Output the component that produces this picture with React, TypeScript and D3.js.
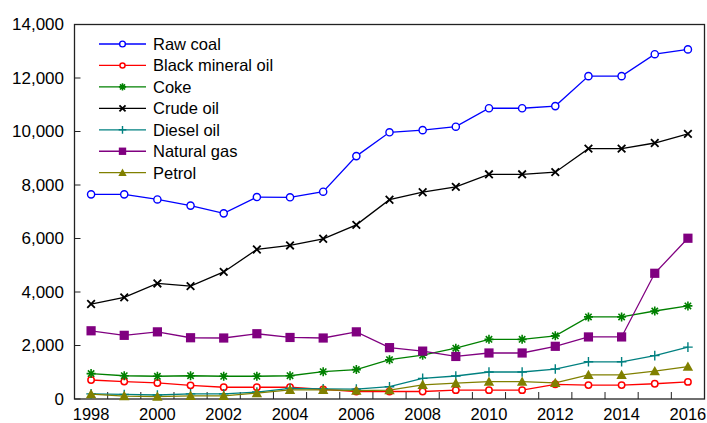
import * as d3 from "d3";

const years = [
  1998, 1999, 2000, 2001, 2002, 2003, 2004, 2005, 2006, 2007, 2008, 2009,
  2010, 2011, 2012, 2013, 2014, 2015, 2016,
];

const rawCoal = [
  7650, 7650, 7460, 7230, 6940, 7550, 7540, 7750, 9080, 9970, 10050, 10180,
  10870, 10870, 10950, 12070, 12070, 12890, 13070,
];
const blackMineralOil = [
  710, 650, 600, 510, 440, 440, 440, 360, 280, 280, 280, 330, 330, 330, 550,
  520, 520, 570, 640,
];
const coke = [
  950, 870, 850, 870, 850, 850, 870, 1020, 1100, 1470, 1640, 1900, 2230, 2230,
  2360, 3070, 3070, 3290, 3480,
];
const crudeOil = [
  3550, 3800, 4320, 4220, 4750, 5590, 5740, 5990, 6510, 7450, 7730, 7930,
  8400, 8400, 8480, 9360, 9360, 9570, 9910,
];
const dieselOil = [
  190, 170, 150, 190, 190, 260, 400, 380, 370, 460, 770, 860, 1010, 1010,
  1120, 1390, 1390, 1620, 1940,
];
const naturalGas = [
  2550, 2380, 2510, 2290, 2280, 2440, 2300, 2280, 2510, 1920, 1790, 1590,
  1720, 1720, 1970, 2320, 2320, 4700, 6010,
];
const petrol = [
  180, 110, 90, 120, 120, 220, 340, 340, 310, 330, 530, 590, 650, 650, 600,
  900, 900, 1040, 1210,
];

const yTicks = [0, 2000, 4000, 6000, 8000, 10000, 12000, 14000];

type MarkerKind = "openCircle" | "smallCircle" | "asterisk" | "cross" | "plus" | "square" | "triangle";

const series: { name: string; values: number[]; color: string; marker: MarkerKind }[] = [
  { name: "Raw coal", values: rawCoal, color: "#0000ff", marker: "openCircle" },
  { name: "Black mineral oil", values: blackMineralOil, color: "#ff0000", marker: "smallCircle" },
  { name: "Coke", values: coke, color: "#008000", marker: "asterisk" },
  { name: "Crude oil", values: crudeOil, color: "#000000", marker: "cross" },
  { name: "Diesel oil", values: dieselOil, color: "#008080", marker: "plus" },
  { name: "Natural gas", values: naturalGas, color: "#800080", marker: "square" },
  { name: "Petrol", values: petrol, color: "#808000", marker: "triangle" },
];

const WIDTH = 707;
const HEIGHT = 423;
const MARGIN = { top: 24.5, right: 2.5, bottom: 24, left: 74.5 };
const FONT = "'Liberation Sans', Arial, sans-serif";

function Marker({ kind, x, y, color, s = 1 }: { kind: MarkerKind; x: number; y: number; color: string; s?: number }) {
  switch (kind) {
    case "openCircle":
      return <circle cx={x} cy={y} r={3.6 * s} fill="white" stroke={color} strokeWidth={1.4} />;
    case "smallCircle":
      return <circle cx={x} cy={y} r={3.2 * s} fill="white" stroke={color} strokeWidth={1.5} />;
    case "asterisk": {
      const r = 4.5 * s;
      const d = r * Math.SQRT1_2;
      return (
        <path
          d={`M${x - r},${y}H${x + r}M${x},${y - r}V${y + r}M${x - d},${y - d}L${x + d},${y + d}M${x - d},${y + d}L${x + d},${y - d}`}
          stroke={color}
          strokeWidth={1.6}
        />
      );
    }
    case "cross": {
      const r = 3.8 * s;
      return (
        <path
          d={`M${x - r},${y - r}L${x + r},${y + r}M${x - r},${y + r}L${x + r},${y - r}`}
          stroke={color}
          strokeWidth={1.8}
        />
      );
    }
    case "plus": {
      const r = 4.8 * s;
      return <path d={`M${x - r},${y}H${x + r}M${x},${y - r}V${y + r}`} stroke={color} strokeWidth={1.4} />;
    }
    case "square": {
      const h = 4.6 * s;
      return <rect x={x - h} y={y - h} width={2 * h} height={2 * h} fill={color} />;
    }
    case "triangle": {
      const h = 5.2 * s;
      return <path d={`M${x},${y - h}L${x + h},${y + h * 0.8}L${x - h},${y + h * 0.8}Z`} fill={color} />;
    }
  }
}

export default function App() {
  const boundsWidth = WIDTH - MARGIN.left - MARGIN.right;
  const boundsHeight = HEIGHT - MARGIN.top - MARGIN.bottom;

  const xScale = d3
    .scaleBand<number>()
    .domain(years)
    .range([MARGIN.left, MARGIN.left + boundsWidth]);
  const xCenter = (yr: number) => (xScale(yr) ?? 0) + xScale.bandwidth() / 2;

  const yScale = d3
    .scaleLinear()
    .domain([0, 14000])
    .range([MARGIN.top + boundsHeight, MARGIN.top]);

  const line = d3
    .line<number>()
    .x((_, i) => xCenter(years[i]))
    .y((d) => yScale(d));

  const bottom = MARGIN.top + boundsHeight;
  const fmt = d3.format(",");

  // legend
  const legendX0 = 99;
  const legendX1 = 146;
  const legendY0 = 44;
  const legendStep = 21.45;

  return (
    <svg
      width={WIDTH}
      height={HEIGHT}
      style={{ position: "absolute", left: 0, top: 0, background: "white" }}
      fontFamily={FONT}
    >
      {/* frame */}
      <rect
        x={MARGIN.left}
        y={MARGIN.top}
        width={boundsWidth}
        height={boundsHeight}
        fill="none"
        stroke="#222"
        strokeWidth={1.3}
      />

      {/* y ticks */}
      {yTicks.map((t) => (
        <g key={t}>
          <line x1={MARGIN.left} x2={MARGIN.left + 6} y1={yScale(t)} y2={yScale(t)} stroke="#222" strokeWidth={1} />
          <text x={64} y={yScale(t)} textAnchor="end" dominantBaseline="central" fontSize={17} fill="#000">
            {fmt(t)}
          </text>
        </g>
      ))}

      {/* x ticks at band edges */}
      {years.slice(1).map((yr) => (
        <line
          key={yr}
          x1={xScale(yr) ?? 0}
          x2={xScale(yr) ?? 0}
          y1={bottom}
          y2={bottom - 7}
          stroke="#222"
          strokeWidth={1}
        />
      ))}
      {years
        .filter((yr) => yr % 2 === 0)
        .map((yr) => (
          <text key={yr} x={xCenter(yr)} y={419.5} textAnchor="middle" fontSize={16.5} fill="#000">
            {yr}
          </text>
        ))}

      {/* series */}
      {series.map((s) => (
        <g key={s.name}>
          <path d={line(s.values) ?? ""} fill="none" stroke={s.color} strokeWidth={1.3} />
          {s.values.map((v, i) => (
            <Marker key={i} kind={s.marker} x={xCenter(years[i])} y={yScale(v)} color={s.color} />
          ))}
        </g>
      ))}

      {/* legend */}
      {series.map((s, i) => {
        const ly = legendY0 + i * legendStep;
        return (
          <g key={s.name}>
            <line x1={legendX0} x2={legendX1} y1={ly} y2={ly} stroke={s.color} strokeWidth={1.3} />
            <Marker kind={s.marker} x={(legendX0 + legendX1) / 2} y={ly} color={s.color} s={0.8} />
            <text x={153} y={ly} dominantBaseline="central" fontSize={16.5} fill="#000">
              {s.name}
            </text>
          </g>
        );
      })}
    </svg>
  );
}
